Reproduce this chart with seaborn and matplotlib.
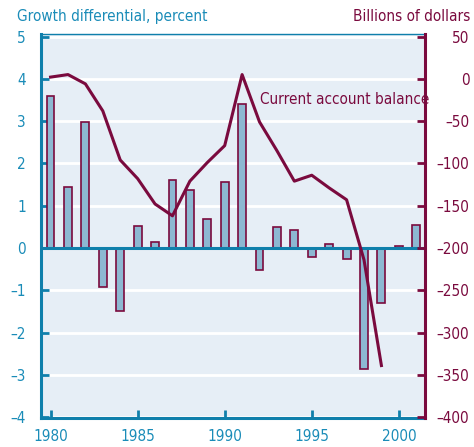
import seaborn as sns
import matplotlib.pyplot as plt
import pandas as pd

# bar series: growth differential (percent), line: current account (billions)
years = list(range(1980, 2002))
growth_diff = [3.6, 1.45, 2.97, -0.93, -1.48, 0.53, 0.13, 1.6, 1.36, 0.69, 1.57,
               3.4, -0.53, 0.49, 0.43, -0.22, 0.1, -0.27, -2.87, -1.3, 0.05, 0.55]
ca_years = list(range(1980, 2000))
ca_balance = [2, 5, -6, -38, -96, -118, -148, -162, -121, -99, -79,
              5, -51, -85, -121, -114, -129, -143, -214, -339]

teal = '#1a8cb8'
teal_dark = '#0f7fab'
maroon = '#7a0a3e'
bar_fill = '#8db8d2'
bg = '#e6eef6'

df_bar = pd.DataFrame({'year': years, 'diff': growth_diff})
df_line = pd.DataFrame({'year': ca_years, 'ca': ca_balance})

plt.rcParams['font.family'] = ['DejaVu Sans']
plt.rcParams['font.stretch'] = 'condensed'

fig = plt.figure(figsize=(4.74, 4.47), dpi=100)
ax = fig.add_axes([0.0865, 0.0649, 0.81, 0.8591])
ax.set_facecolor(bg)

for yv in range(-4, 6):
    ax.axhline(yv, color='white', lw=2, zorder=0)

sns.barplot(data=df_bar, x='year', y='diff', native_scale=True, width=0.45,
            color=bar_fill, edgecolor=maroon, linewidth=1.2, saturation=1, ax=ax, zorder=2)
ax.axhline(0, color=teal_dark, lw=2.2, zorder=3)

ax.set_xlim(1979.45, 2001.5)
ax.set_ylim(-4.02, 5.06)
ax.set_yticks(range(-4, 6))
ax.set_yticklabels([str(v).replace('-', '\u2013') for v in range(-4, 6)])
ax.set_xticks([1980, 1985, 1990, 1995, 2000])
ax.set_xlabel('')
ax.set_ylabel('')
ax.tick_params(axis='y', direction='in', length=6, width=2, color=teal_dark,
               labelcolor=teal, labelsize=11, pad=11)
ax.tick_params(axis='x', direction='in', length=6, width=2, color=teal_dark,
               labelcolor=teal, labelsize=11, pad=8)
for s in ['left', 'bottom']:
    ax.spines[s].set_color(teal_dark)
    ax.spines[s].set_linewidth(2.2)
ax.spines['top'].set_color(teal_dark)
ax.spines['top'].set_linewidth(1)
ax.spines['right'].set_visible(False)

ax2 = ax.twinx()
sns.lineplot(data=df_line, x='year', y='ca', color=maroon, lw=2.2, ax=ax2, zorder=4)
ax2.set_ylim((-4.02 - 4) * 50, (5.06 - 4) * 50)
ax2.set_yticks(range(-400, 51, 50))
ax2.set_yticklabels([str(v).replace('-', '\u2013') for v in range(-400, 51, 50)])
ax2.set_ylabel('')
ax2.tick_params(axis='y', direction='in', length=6, width=2, color=maroon,
                labelcolor=maroon, labelsize=11, pad=32)
for lab in ax2.get_yticklabels():
    lab.set_horizontalalignment('right')
ax2.spines['right'].set_color(maroon)
ax2.spines['right'].set_linewidth(2.2)
for s in ['left', 'top', 'bottom']:
    ax2.spines[s].set_visible(False)

ax.text(1992.0, 3.5, 'Current account balance', color=maroon, fontsize=11,
        ha='left', va='center', zorder=5)

fig.text(0.036, 0.962, 'Growth differential, percent', color=teal, fontsize=11,
         ha='left', va='center')
fig.text(0.993, 0.962, 'Billions of dollars', color=maroon, fontsize=11,
         ha='right', va='center')

plt.savefig('out.png', dpi=100)
